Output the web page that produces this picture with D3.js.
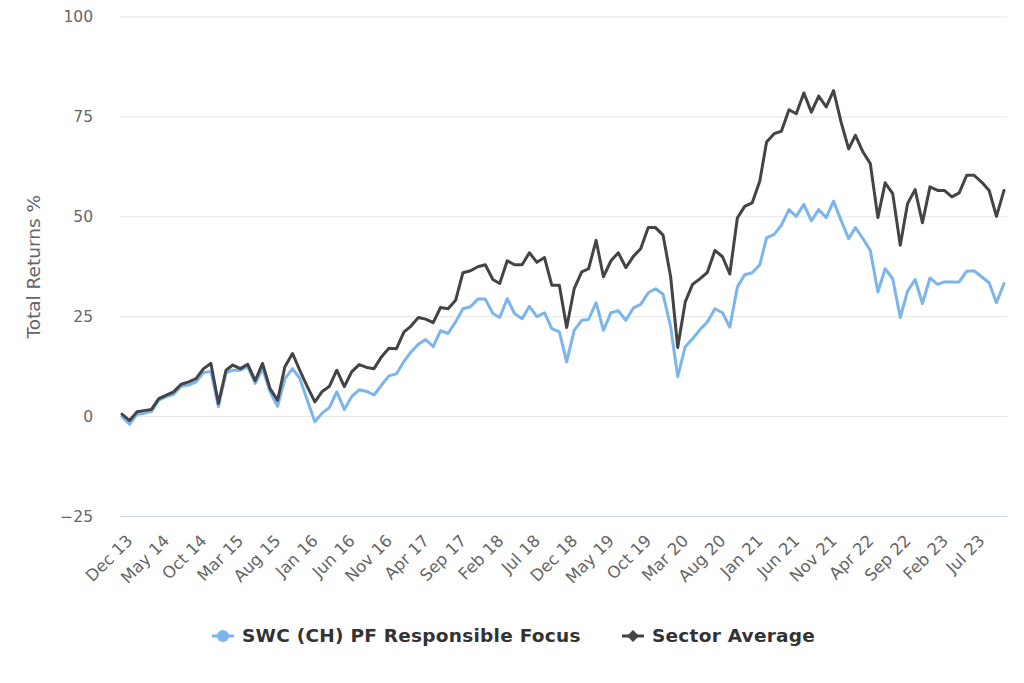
<!DOCTYPE html>
<html>
<head>
<meta charset="utf-8">
<script src="https://cdn.jsdelivr.net/npm/d3@7"></script>
<style>
  body { margin: 0; background: #fff; }
  svg { font-family: "DejaVu Sans", Verdana, sans-serif; }
</style>
</head>
<body>
<svg width="1024" height="683"></svg>
<script>
// monthly total returns %, Dec 2013 .. Nov 2023
const startMonth = new Date(2013, 11, 1);

const fundName = "SWC (CH) PF Responsible Focus";
const fundValues = [
  0.0, -1.9, 0.6, 0.8, 1.3, 4.1, 5.0, 5.6, 7.6, 7.9,
  8.7, 11.0, 11.3, 2.5, 11.0, 11.6, 11.6, 12.5, 8.3, 12.0,
  6.2, 2.6, 9.5, 12.0, 9.6, 4.1, -1.3, 0.8, 2.3, 6.2,
  1.8, 5.0, 6.7, 6.3, 5.4, 7.9, 10.2, 10.7, 13.8, 16.1,
  18.1, 19.3, 17.5, 21.5, 20.8, 23.7, 27.0, 27.5, 29.4, 29.4,
  25.8, 24.8, 29.5, 25.8, 24.5, 27.6, 25.0, 26.0, 22.0, 21.2,
  13.7, 21.6, 24.1, 24.3, 28.5, 21.6, 26.0, 26.5, 24.1, 27.2,
  28.1, 31.0, 32.0, 30.6, 22.5, 10.0, 17.5, 19.5, 21.8, 23.7,
  27.0, 26.0, 22.4, 32.4, 35.5, 36.0, 38.0, 44.7, 45.6, 47.9,
  51.8, 50.1, 53.1, 49.0, 51.8, 49.8, 53.9, 49.1, 44.5, 47.3,
  44.5, 41.6, 31.2, 37.0, 34.5, 24.8, 31.4, 34.3, 28.3, 34.7,
  33.1, 33.7, 33.7, 33.7, 36.4, 36.5, 35.0, 33.5, 28.5, 33.3
];

const sectorName = "Sector Average";
const sectorValues = [
  0.6, -1.0, 1.2, 1.5, 1.8, 4.5, 5.4, 6.2, 8.1, 8.7,
  9.5, 12.0, 13.3, 3.3, 11.6, 12.9, 12.0, 13.1, 9.0, 13.3,
  7.0, 4.1, 12.5, 15.8, 11.6, 7.5, 3.7, 6.2, 7.6, 11.6,
  7.5, 11.2, 13.0, 12.3, 12.0, 15.0, 17.1, 17.0, 21.2, 22.6,
  24.8, 24.4, 23.5, 27.3, 27.0, 29.1, 36.0, 36.5, 37.5, 38.0,
  34.3, 33.3, 39.0, 38.0, 38.0, 41.0, 38.6, 39.8, 32.9, 32.9,
  22.3, 32.0, 36.2, 37.0, 44.1, 35.0, 39.0, 41.0, 37.3, 40.1,
  42.0, 47.3, 47.3, 45.4, 35.0, 17.3, 28.7, 33.1, 34.5, 36.1,
  41.6, 40.0, 35.7, 49.7, 52.6, 53.5, 58.9, 68.7, 70.8, 71.4,
  76.8, 75.8, 81.0, 76.2, 80.2, 77.5, 81.6, 73.7, 67.0, 70.4,
  66.2, 63.3, 49.8, 58.5, 55.8, 42.9, 53.3, 56.8, 48.5, 57.5,
  56.6, 56.6, 55.0, 56.0, 60.4, 60.4, 58.7, 56.6, 50.1, 56.6
];

const yTicks = [-25, 0, 25, 50, 75, 100];
const tickEvery = 5; // months between x labels

const months = d3.range(fundValues.length).map((i) => d3.timeMonth.offset(startMonth, i));
const fund = months.map((d, i) => ({ date: d, value: fundValues[i] }));
const sector = months.map((d, i) => ({ date: d, value: sectorValues[i] }));

const svg = d3.select("svg");
const plotLeft = 120, plotRight = 1007;

const xScale = d3.scaleTime()
  .domain(d3.extent(months))
  .range([122, 1004]);

const yScale = d3.scaleLinear()
  .domain([-25, 100])
  .range([516.5, 17]);

// gridlines
svg.append("g")
  .selectAll("line")
  .data(yTicks.filter((t) => t !== -25))
  .join("line")
  .attr("x1", plotLeft)
  .attr("x2", plotRight)
  .attr("y1", (d) => yScale(d))
  .attr("y2", (d) => yScale(d))
  .attr("stroke", "#e6e6e6")
  .attr("stroke-width", 1);

// x axis line
svg.append("line")
  .attr("x1", plotLeft)
  .attr("x2", plotRight)
  .attr("y1", yScale(-25))
  .attr("y2", yScale(-25))
  .attr("stroke", "#ccd6eb")
  .attr("stroke-width", 1);

// y axis labels
const yAxis = svg.append("g")
  .attr("transform", "translate(93,0)")
  .call(d3.axisLeft(yScale).tickValues(yTicks).tickSize(0).tickPadding(0)
    .tickFormat((d) => d < 0 ? "\u2212" + Math.abs(d) : d));
yAxis.select(".domain").remove();
yAxis.selectAll("text")
  .attr("fill", "#666666")
  .attr("font-size", 15.5)
  .attr("font-family", "DejaVu Sans, sans-serif");

svg.append("text")
  .attr("transform", "translate(40," + yScale(37.5) + ") rotate(-90)")
  .attr("text-anchor", "middle")
  .attr("fill", "#666666")
  .attr("font-size", 18.5)
  .text("Total Returns %");

// x axis labels
const xTickValues = months.filter((d, i) => i % tickEvery === 0);
const xAxis = svg.append("g")
  .attr("transform", "translate(0," + yScale(-25) + ")")
  .call(d3.axisBottom(xScale).tickValues(xTickValues).tickSize(0)
    .tickFormat(d3.timeFormat("%b %y")));
xAxis.select(".domain").remove();
xAxis.selectAll("text")
  .attr("fill", "#666666")
  .attr("font-size", 16.5)
  .attr("font-family", "DejaVu Sans, sans-serif")
  .attr("text-anchor", "end")
  .attr("dy", "0.35em")
  .attr("transform", "translate(5,19) rotate(-45)");

const line = d3.line()
  .x((d) => xScale(d.date))
  .y((d) => yScale(d.value));

svg.append("path")
  .datum(fund)
  .attr("fill", "none")
  .attr("stroke", "#7cb5ec")
  .attr("stroke-width", 3)
  .attr("stroke-linejoin", "round")
  .attr("stroke-linecap", "round")
  .attr("d", line);

svg.append("path")
  .datum(sector)
  .attr("fill", "none")
  .attr("stroke", "#434348")
  .attr("stroke-width", 3)
  .attr("stroke-linejoin", "round")
  .attr("stroke-linecap", "round")
  .attr("d", line);

// legend
const legend = svg.append("g").attr("transform", "translate(0,636)");

const item1 = legend.append("g").attr("transform", "translate(212,0)");
item1.append("line").attr("x1", 0).attr("x2", 22).attr("stroke", "#7cb5ec").attr("stroke-width", 3);
item1.append("circle").attr("cx", 11).attr("r", 6).attr("fill", "#7cb5ec");
item1.append("text").attr("x", 30).attr("dy", "0.35em")
  .attr("fill", "#333333").attr("font-size", 18.5).attr("font-weight", "bold")
  .attr("letter-spacing", 0.25)
  .text(fundName);

const item2 = legend.append("g").attr("transform", "translate(622,0)");
item2.append("line").attr("x1", 0).attr("x2", 22).attr("stroke", "#434348").attr("stroke-width", 3);
item2.append("path").attr("d", "M11,-6L17,0L11,6L5,0Z").attr("fill", "#434348");
item2.append("text").attr("x", 30).attr("dy", "0.35em")
  .attr("fill", "#333333").attr("font-size", 18.5).attr("font-weight", "bold")
  .attr("letter-spacing", 0.25)
  .text(sectorName);
</script>
</body>
</html>
